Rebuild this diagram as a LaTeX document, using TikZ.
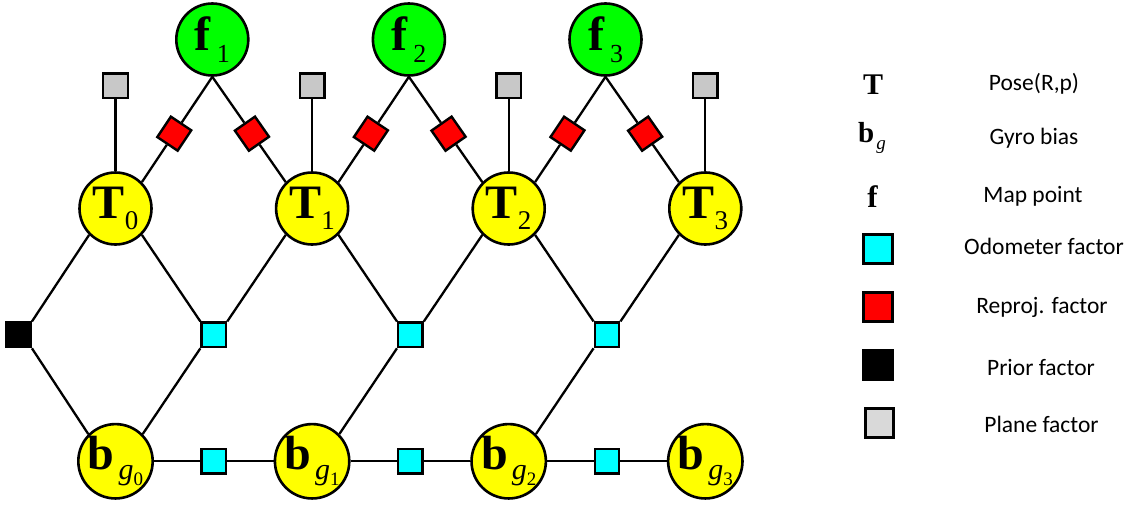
\documentclass[tikz,border=0pt]{standalone}
\usepackage{fontspec}
\setmainfont{Liberation Serif}
\newfontfamily\legendfont{Carlito}
\usetikzlibrary{positioning, calc}
\definecolor{posefill}{RGB}{255,255,0}
\definecolor{pointfill}{RGB}{0,255,0}
\definecolor{odomfill}{RGB}{0,255,255}
\definecolor{reprojfill}{RGB}{255,0,0}
\definecolor{planefill}{RGB}{200,200,200}
\definecolor{planekey}{RGB}{217,217,217}
\newcommand{\poselab}[1]{{\fontsize{48}{48}\selectfont\bfseries T}\raisebox{-11.5pt}{\fontsize{27}{27}\selectfont #1}}
\newcommand{\pointlab}[1]{{\fontsize{48}{48}\selectfont\bfseries f}\hspace{6pt}\raisebox{-11.5pt}{\fontsize{26}{26}\selectfont #1}\hspace{8pt}}
\newcommand{\biaslab}[1]{{\fontsize{48}{48}\selectfont\bfseries b}\hspace{4pt}\raisebox{-10pt}{\fontsize{30}{30}\selectfont\itshape g\raisebox{-6pt}{\fontsize{19}{19}\selectfont\upshape #1}}}
\tikzset{
    pose/.style = {circle, draw, line width=2.6pt, fill=posefill, minimum size=72pt, inner sep=0pt},
    point/.style = {pose, fill=pointfill},
    factor/.style = {rectangle, draw, line width=2.4pt, minimum size=24.5pt, inner sep=0pt},
    odom/.style = {factor, fill=odomfill},
    reproj/.style = {factor, fill=reprojfill},
    prior/.style = {factor, fill=black},
    plane/.style = {factor, fill=planefill},
    line/.style = {draw, line width=2.3pt},
    keybox/.style = {factor, minimum size=28.5pt, line width=3pt},
    keytext/.style = {font=\legendfont\fontsize{23.5}{28}\selectfont}
}

\begin{document}
\begin{tikzpicture}[x=1pt, y=-1pt, node distance=122pt]
        \useasboundingbox (0,0) rectangle (1139,506);
        % Nodes
        \node [pose] (T0) at (115.5,208.5) {\poselab{0}};
        \node [pose, right=of T0] (T1) {\poselab{1}};
        \node [pose, right=of T1] (T2) {\poselab{2}};
        \node [pose, right=of T2] (T3) {\poselab{3}};
        \node [pose, below=177pt of T0] (b0) {\biaslab{0}};
        \node [pose, below=177pt of T1] (b1) {\biaslab{1}};
        \node [pose, below=177pt of T2] (b2) {\biaslab{2}};
        \node [pose, below=177pt of T3] (b3) {\biaslab{3}};
        \node [point] (f1) at ($(T0)!0.5!(T1)+(-1.5,-169)$) {\pointlab{1}};
        \node [point] (f2) at ($(T1)!0.5!(T2)+(-1.5,-169)$) {\pointlab{2}};
        \node [point] (f3) at ($(T2)!0.5!(T3)+(-1.5,-169)$) {\pointlab{3}};

        % Factors
        \node [plane, above=72pt of T0] (p0) {};
        \node [plane, above=72pt of T1] (p1) {};
        \node [plane, above=72pt of T2] (p2) {};
        \node [plane, above=72pt of T3] (p3) {};
        \node [odom] (o1) at ($(T0)!0.5!(b1)$) {};
        \node [odom] (o2) at ($(T1)!0.5!(b2)$) {};
        \node [odom] (o3) at ($(T2)!0.5!(b3)$) {};
        \node [odom] (ob1) at ($(b0)!0.5!(b1)$) {};
        \node [odom] (ob2) at ($(b1)!0.5!(b2)$) {};
        \node [odom] (ob3) at ($(b2)!0.5!(b3)$) {};
        \node [prior, xshift=-97pt] (pr) at ($(T0)!0.5!(b0)$) {};
        \path (f1.south) -- node [reproj, sloped, pos=0.54] (r1a) {} (T0.north east);
        \path (f1.south) -- node [reproj, sloped, pos=0.54] (r1b) {} (T1.north west);
        \path (f2.south) -- node [reproj, sloped, pos=0.54] (r2a) {} (T1.north east);
        \path (f2.south) -- node [reproj, sloped, pos=0.54] (r2b) {} (T2.north west);
        \path (f3.south) -- node [reproj, sloped, pos=0.54] (r3a) {} (T2.north east);
        \path (f3.south) -- node [reproj, sloped, pos=0.54] (r3b) {} (T3.north west);

        % Edges
        \path [line] (f1.south) -- (r1a) -- (T0.north east);
        \path [line] (f1.south) -- (r1b) -- (T1.north west);
        \path [line] (f2.south) -- (r2a) -- (T1.north east);
        \path [line] (f2.south) -- (r2b) -- (T2.north west);
        \path [line] (f3.south) -- (r3a) -- (T2.north east);
        \path [line] (f3.south) -- (r3b) -- (T3.north west);
        \path [line] (p0) -- (T0);
        \path [line] (p1) -- (T1);
        \path [line] (p2) -- (T2);
        \path [line] (p3) -- (T3);
        \path [line] (T0.south west) -- (pr.north east);
        \path [line] (pr.south east) -- (b0.north west);
        \path [line] (T0.south east) -- (o1.north west);
        \path [line] (T1.south west) -- (o1.north east);
        \path [line] (o1.south west) -- (b0.north east);
        \path [line] (T1.south east) -- (o2.north west);
        \path [line] (T2.south west) -- (o2.north east);
        \path [line] (o2.south west) -- (b1.north east);
        \path [line] (T2.south east) -- (o3.north west);
        \path [line] (T3.south west) -- (o3.north east);
        \path [line] (o3.south west) -- (b2.north east);
        \path [line] (b0) -- (ob1) -- (b1);
        \path [line] (b1) -- (ob2) -- (b2);
        \path [line] (b2) -- (ob3) -- (b3);

        % Legend
        \node (keyT) at (873,84.5) {\fontsize{30}{30}\selectfont\bfseries T};
        \node (keyB) at (872,138) {{\fontsize{29}{29}\selectfont\bfseries b}\hspace{2pt}\raisebox{-7pt}{\fontsize{19}{19}\selectfont\itshape g}};
        \node (keyF) at (872.5,197) {\fontsize{31}{31}\selectfont\bfseries f};
        \node [keybox, fill=odomfill] (keyO) at (878,249) {};
        \node [keybox, fill=reprojfill] (keyR) at (878,307) {};
        \node [keybox, fill=black] (keyP) at (878,365) {};
        \node [keybox, fill=planekey] (keyG) at (879.5,423) {};
        \node [keytext] (keyTtxt) at (1034,84) {Pose(R,p)};
        \node [keytext] (keyBtxt) at (1034,138) {Gyro bias};
        \node [keytext] (keyFtxt) at (1033,196) {Map point};
        \node [keytext] (keyOtxt) at (1044,246) {Odometer factor};
        \node [keytext] (keyRtxt) at (1042,307) {Reproj. factor};
        \node [keytext] (keyPtxt) at (1041,367) {Prior factor};
        \node [keytext] (keyGtxt) at (1041.5,424) {Plane factor};
    \end{tikzpicture}
\end{document}
